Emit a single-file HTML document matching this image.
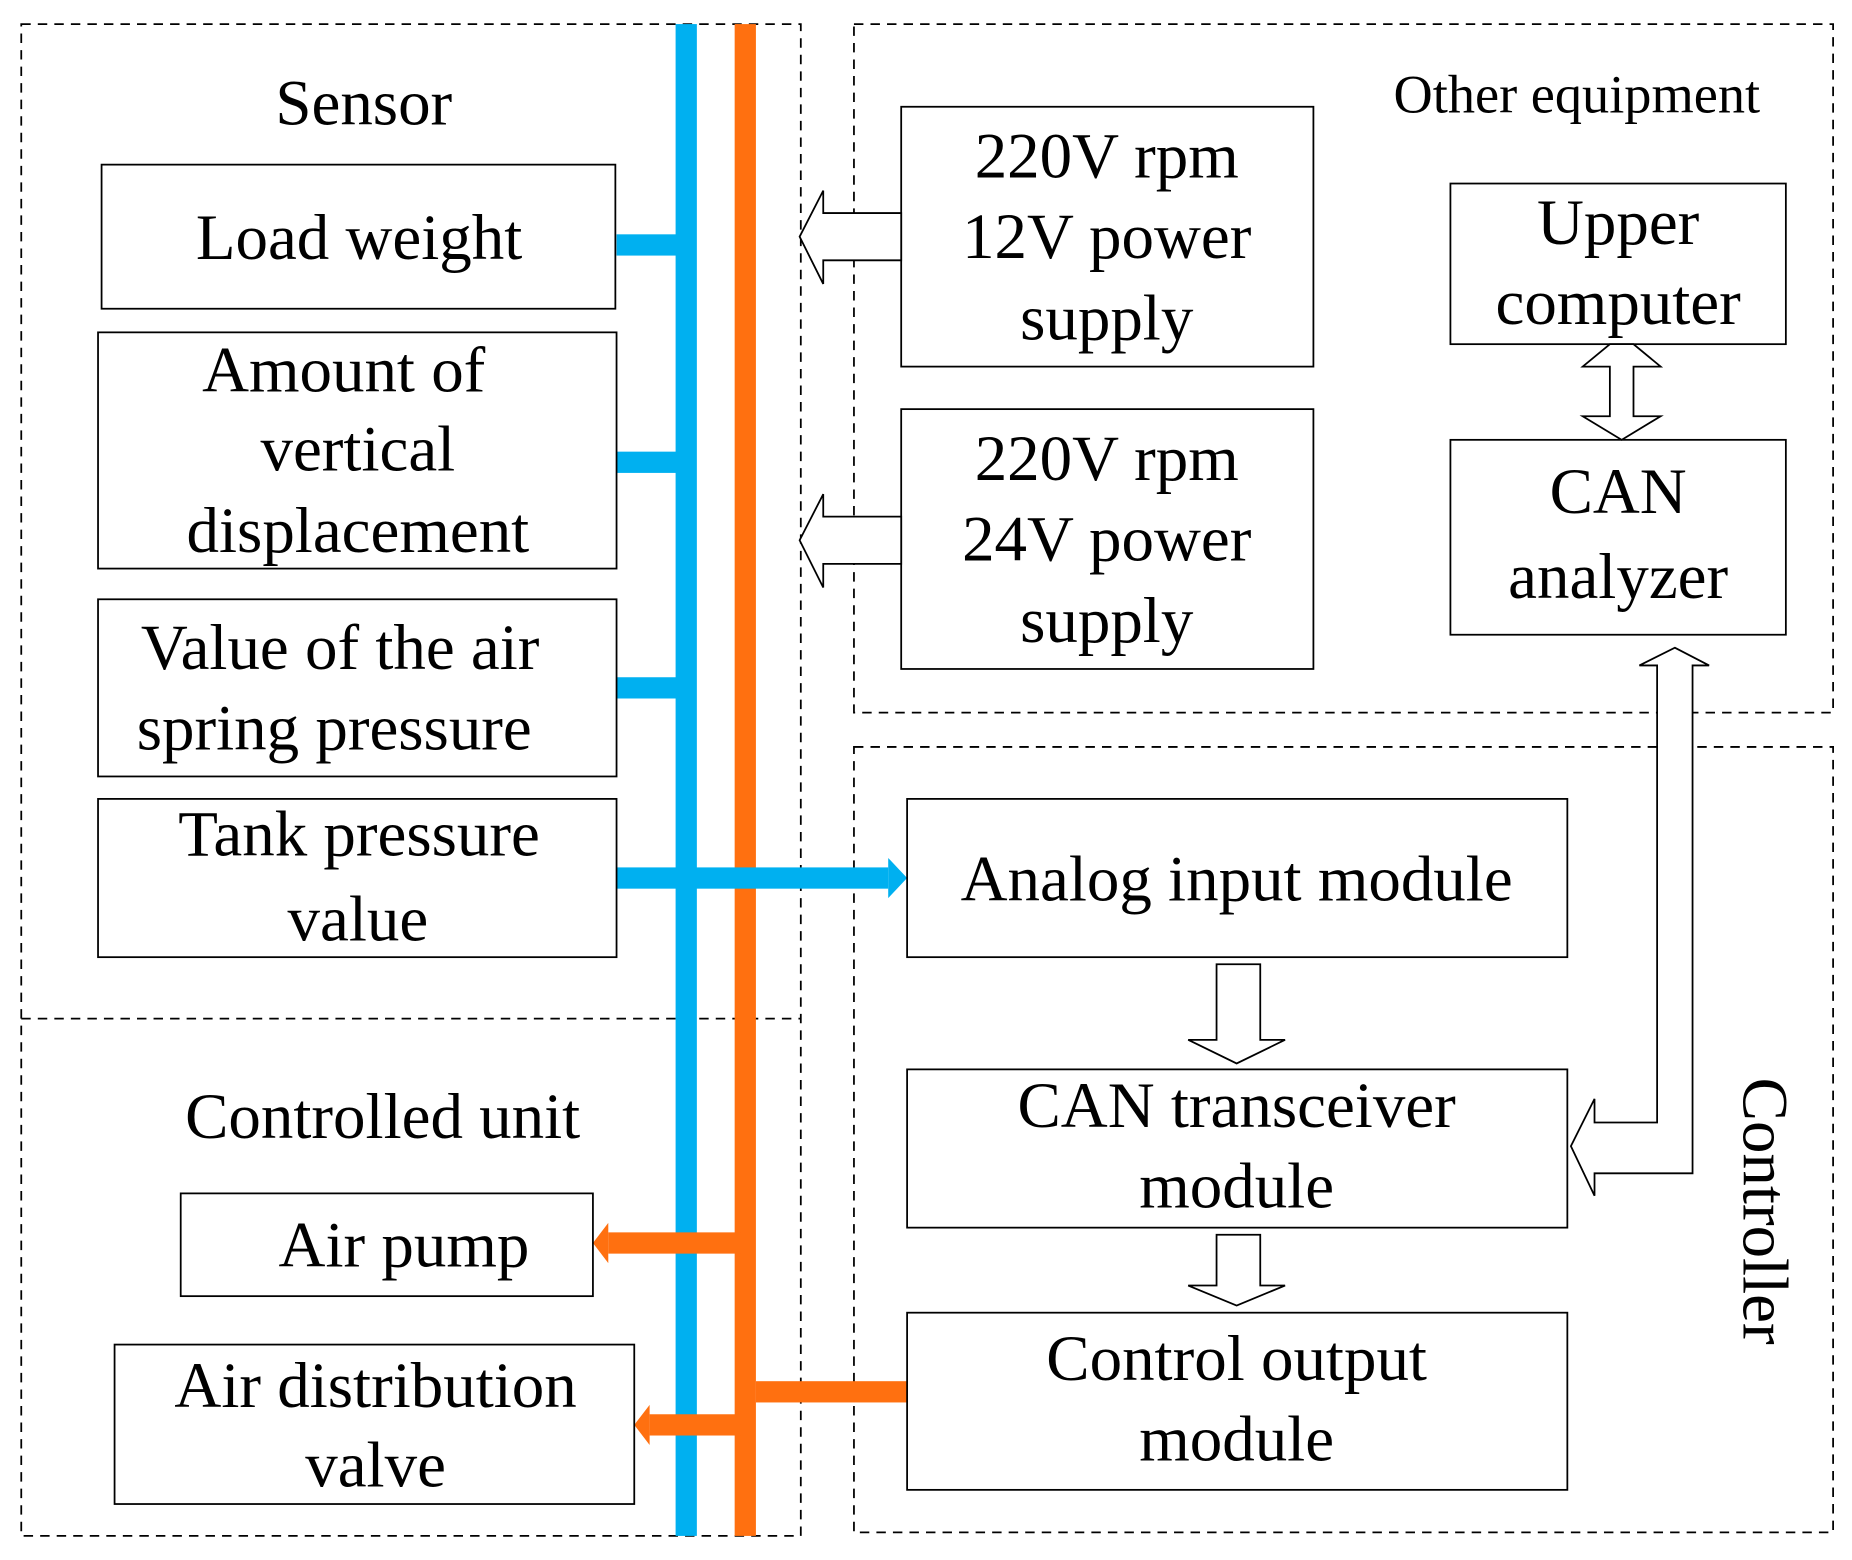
<!DOCTYPE html>
<html><head><style>html,body{margin:0;padding:0;background:#fff}svg{display:block}</style></head>
<body>
<svg width="1852" height="1560" viewBox="0 0 1568 1320" xmlns="http://www.w3.org/2000/svg" font-family="Liberation Serif, serif" font-size="55" text-anchor="middle">
<g fill="none" stroke="#000" stroke-width="1.5" stroke-dasharray="8,6">
<rect x="18" y="20" width="660" height="1280"/>
<line x1="18" y1="862" x2="678" y2="862"/>
<rect x="723" y="20" width="829" height="583"/>
<rect x="723" y="632" width="829" height="665"/>
</g>
<rect x="572" y="20" width="18" height="1280" fill="#00b0f0"/>
<rect x="622" y="20" width="18" height="1280" fill="#ff7010"/>
<g fill="#00b0f0">
<rect x="522" y="198" width="55" height="18"/>
<rect x="522" y="382" width="55" height="18"/>
<rect x="522" y="573" width="55" height="18"/>
<rect x="522" y="734" width="230" height="18"/>
<polygon points="752,726 768,743 752,760"/>
</g>
<rect x="640" y="1169" width="128" height="18" fill="#ff7010"/>
<g fill="#ff7010">
<rect x="515" y="1043" width="112" height="18"/>
<polygon points="515,1035 502,1052 515,1069"/>
<rect x="550" y="1197" width="77" height="18"/>
<polygon points="550,1189 537,1206 550,1223"/>
</g>
<g fill="#fff" stroke="#000" stroke-width="1.5">
<rect x="86" y="139" width="435" height="122"/>
<rect x="83" y="281" width="439" height="200"/>
<rect x="83" y="507" width="439" height="150"/>
<rect x="83" y="676" width="439" height="134"/>
<rect x="153" y="1010" width="349" height="87"/>
<rect x="97" y="1138" width="440" height="135"/>
<rect x="763" y="90" width="349" height="220"/>
<rect x="763" y="346" width="349" height="220"/>
<rect x="1228" y="155" width="284" height="136"/>
<rect x="1228" y="372" width="284" height="165"/>
<rect x="768" y="676" width="559" height="134"/>
<rect x="768" y="905" width="559" height="134"/>
<rect x="768" y="1111" width="559" height="150"/>
<polygon points="763,180 697,180 697,161 677,200 697,240 697,220 763,220"/>
<polygon points="763,437 697,437 697,418 677,457 697,497 697,477 763,477"/>
<polygon points="1363,291 1340,310 1363,310 1363,352 1340,352 1373,372 1406,352 1383,352 1383,310 1406,310 1383,291 1373,291"/>
<polygon points="1030,816 1067,816 1067,880 1088,880 1047,900 1006,880 1030,880"/>
<polygon points="1030,1045 1067,1045 1067,1088 1088,1088 1047,1105 1006,1088 1030,1088"/>
<polygon points="1418,548 1447,563 1433,563 1433,993 1350,993 1350,1012 1330,970 1350,930 1350,950 1403,950 1403,563 1388,563"/>
</g>
<g fill="#000">
<text x="308" y="105">Sensor</text>
<text x="1335" y="95" font-size="46">Other equipment</text>
<text x="304" y="219">Load weight</text>
<text x="291" y="331">Amount of</text>
<text x="303" y="398">vertical</text>
<text x="303" y="467">displacement</text>
<text x="288" y="566">Value of the air</text>
<text x="283" y="634">spring pressure</text>
<text x="304" y="724">Tank pressure</text>
<text x="303" y="796">value</text>
<text x="324" y="963">Controlled unit</text>
<text x="342" y="1072">Air pump</text>
<text x="318" y="1191">Air distribution</text>
<text x="318" y="1258">valve</text>
<text x="937" y="150">220V rpm</text>
<text x="937" y="218">12V power</text>
<text x="937" y="287">supply</text>
<text x="937" y="406">220V rpm</text>
<text x="937" y="474">24V power</text>
<text x="937" y="543">supply</text>
<text x="1370" y="206">Upper</text>
<text x="1370" y="274">computer</text>
<text x="1370" y="434">CAN</text>
<text x="1370" y="506">analyzer</text>
<text x="1047" y="762">Analog input module</text>
<text x="1047" y="954">CAN transceiver</text>
<text x="1047" y="1022">module</text>
<text x="1047" y="1168">Control output</text>
<text x="1047" y="1236">module</text>
<text transform="translate(1476,1025) rotate(90)">Controller</text>
</g>
</svg>
</body></html>
